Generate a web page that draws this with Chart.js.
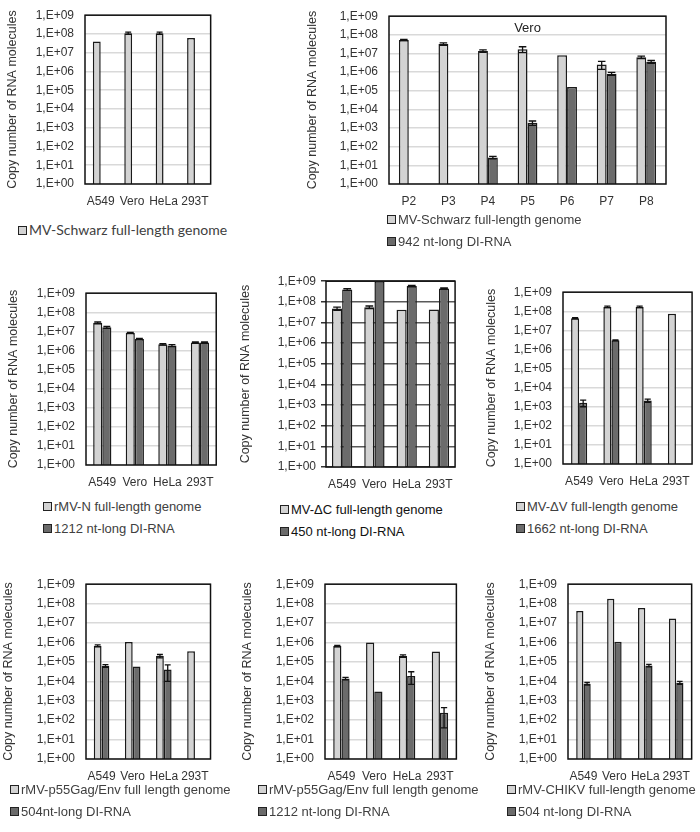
<!DOCTYPE html>
<html>
<head>
<meta charset="utf-8">
<script src="https://cdn.jsdelivr.net/npm/chart.js@4.4.1/dist/chart.umd.min.js"></script>
<style>
body { margin: 0; background: #fff; width: 700px; height: 832px; position: relative; overflow: hidden; font-family: "Liberation Sans", Arial, sans-serif; }
canvas { position: absolute; }
.lg { position: absolute; font-size: 13px; color: #404040; line-height: 22px; white-space: nowrap; }
.lg i { display: inline-block; width: 7px; height: 7px; border: 1.5px solid #222; margin-right: 2px; vertical-align: 0px; }
</style>
</head>
<body>
<script>
// categories
const cellLines = ["A549", "Vero", "HeLa", "293T"];
const passages = ["P2", "P3", "P4", "P5", "P6", "P7", "P8"];
const decades = [0, 1, 2, 3, 4, 5, 6, 7, 8, 9];

// MV-Schwarz in the four cell lines
const schwarzCells = [4.0e7, 1.1e8, 1.1e8, 6.0e7];
const schwarzCellsErr = [0, 1.5e7, 1.5e7, 0];

// serial passages on Vero
const passFull = [5.3e7, 3.2e7, 1.35e7, 1.7e7, 8.0e6, 2.6e6, 6.3e6];
const passFullErr = [4e6, 5e6, 2e6, 6e6, 0, 1.2e6, 1e6];
const passDI = [null, null, 26, 1.9e3, 1.6e5, 8.3e5, 3.6e6];
const passDIErr = [0, 0, 4, 5e2, 0, 1.5e5, 6e5];

// rMV-N
const nFull = [2.8e7, 8.3e6, 2.1e6, 2.6e6];
const nFullErr = [3e6, 5e5, 2e5, 2e5];
const nDI = [1.65e7, 4.0e6, 1.8e6, 2.6e6];
const nDIErr = [2e6, 3e5, 2e5, 2e5];

// MV-deltaC
const dcFull = [4.7e7, 5.5e7, 4.1e7, 4.2e7];
const dcFullErr = [8e6, 8e6, 0, 0];
const dcDI = [4.0e8, 1.0e9, 5.8e8, 4.4e8];
const dcDIErr = [4e7, 0, 5e7, 3e7];

// MV-deltaV
const dvFull = [4.3e7, 1.7e8, 1.7e8, 7.5e7];
const dvFullErr = [3e6, 1.5e7, 1.5e7, 0];
const dvDI = [1.6e3, 3.0e6, 2.1e3, null];
const dvDIErr = [6e2, 2e5, 4e2, 0];

// rMV-p55Gag/Env with 504 nt DI
const gagFull = [6.7e5, 1.05e6, 2.0e5, 3.5e5];
const gagFullErr = [8e4, 0, 4e4, 0];
const gag504 = [6.3e4, 5.8e4, 4.0e4, null];
const gag504Err = [1e4, 0, 3e4, 0];

// rMV-p55Gag/Env with 1212 nt DI
const gagFull2 = [6.5e5, 1.0e6, 2.0e5, 3.4e5];
const gagFull2Err = [6e4, 0, 3e4, 0];
const gag1212 = [1.4e4, 3.0e3, 1.9e4, 2.4e2];
const gag1212Err = [2e3, 0, 1.2e4, 2e2];

// rMV-CHIKV
const chikFull = [4.2e7, 1.8e8, 6.0e7, 1.7e7];
const chikFullErr = [0, 0, 0, 0];
const chik504 = [7.5e3, 1.1e6, 6.5e4, 8.5e3];
const chik504Err = [1.2e3, 0, 1e4, 1.5e3];

const LIGHT = "#d3d3d3";
const DARK = "#6b6b6b";
const Y_TITLE = "Copy number of RNA molecules";

const panels = [
    { cats: cellLines, box: [85, 5, 216, 184], titleX: 12, frac: 0.5,
      sets: [["MV-Schwarz full-length genome", schwarzCells, schwarzCellsErr], [null, [null, null, null, null], null]],
      legend: [18, 230], legendFont: "Lato, sans-serif", legendSize: 14 },
    { cats: passages, box: [389, 6, 666, 184], titleX: 312, frac: 0.5, inner: "Vero",
      sets: [["MV-Schwarz full-length genome", passFull, passFullErr], ["942 nt-long DI-RNA", passDI, passDIErr]],
      legend: [387, 220] },
    { cats: cellLines, box: [86, 283, 221, 465], titleX: 13, frac: 0.56,
      sets: [["rMV-N full-length genome", nFull, nFullErr], ["1212 nt-long DI-RNA", nDI, nDIErr]],
      legend: [43, 507] },
    { cats: cellLines, box: [326, 277, 460, 467], titleX: 245, frac: 0.63, darkGrid: true,
      sets: [["MV-\u0394C full-length genome", dcFull, dcFullErr], ["450 nt-long DI-RNA", dcDI, dcDIErr]],
      legend: [280, 510], legendColor: "#111" },
    { cats: cellLines, box: [563, 282, 697, 464], titleX: 491, frac: 0.5,
      sets: [["MV-\u0394V full-length genome", dvFull, dvFullErr], ["1662 nt-long DI-RNA", dvDI, dvDIErr]],
      legend: [516, 507] },
    { cats: cellLines, box: [86, 574, 216, 759], titleX: 8, frac: 0.5,
      sets: [["rMV-p55Gag/Env full length genome", gagFull, gagFullErr], ["504nt-long DI-RNA", gag504, gag504Err]],
      legend: [10, 790] },
    { cats: cellLines, box: [325, 574, 461, 759], titleX: 247, frac: 0.5,
      sets: [["rMV-p55Gag/Env full length genome", gagFull2, gagFull2Err], ["1212 nt-long DI-RNA", gag1212, gag1212Err]],
      legend: [258, 790] },
    { cats: cellLines, box: [568, 574, 699, 759], titleX: 490, frac: 0.47,
      sets: [["rMV-CHIKV full-length genome", chikFull, chikFullErr], ["504 nt-long DI-RNA", chik504, chik504Err]],
      legend: [507, 790] },
];

const errorBars = {
    id: "errorBars",
    afterDatasetsDraw(chart) {
        const ctx = chart.ctx;
        const y = chart.scales.y;
        chart.data.datasets.forEach((ds, di) => {
            if (!ds.errors) return;
            chart.getDatasetMeta(di).data.forEach((bar, i) => {
                const v = ds.data[i];
                const e = ds.errors[i];
                if (v == null || !e) return;
                const top = y.getPixelForValue(v + e);
                const bot = y.getPixelForValue(Math.max(v - e, 1));
                const hw = bar.width * 0.38;
                ctx.save();
                ctx.strokeStyle = "#111";
                ctx.lineWidth = 1.3;
                ctx.beginPath();
                ctx.moveTo(bar.x, top);
                ctx.lineTo(bar.x, bot);
                ctx.moveTo(bar.x - hw, top);
                ctx.lineTo(bar.x + hw, top);
                ctx.moveTo(bar.x - hw, bot);
                ctx.lineTo(bar.x + hw, bot);
                ctx.stroke();
                ctx.restore();
            });
        });
    },
};

const frame = {
    id: "frame",
    afterDraw(chart, args, opts) {
        const { ctx, chartArea: a } = chart;
        ctx.save();
        ctx.strokeStyle = "#111";
        ctx.lineWidth = 1.5;
        ctx.strokeRect(a.left, a.top, a.right - a.left, a.bottom - a.top);
        if (opts.text) {
            ctx.fillStyle = "#222";
            ctx.font = "13px 'Liberation Sans', Arial, sans-serif";
            ctx.textAlign = "center";
            ctx.textBaseline = "middle";
            ctx.fillText(opts.text, (a.left + a.right) / 2, a.top + 12);
        }
        ctx.restore();
    },
};

function makePanel(p) {
    const L = p.titleX - 13;
    const T = p.box[1] - 8;
    const padR = Math.min(3, 700 - p.box[2]);
    const W = p.box[2] - L + padR;
    const H = p.box[3] - T + 30;
    const axisW = p.box[0] - L;

    const canvas = document.createElement("canvas");
    canvas.width = W;
    canvas.height = H;
    canvas.style.left = L + "px";
    canvas.style.top = T + "px";
    document.body.appendChild(canvas);

    const colors = [LIGHT, DARK];
    new Chart(canvas, {
        type: "bar",
        data: {
            labels: p.cats,
            datasets: p.sets.map((s, k) => ({
                label: s[0] || "",
                data: s[1],
                errors: s[2],
                backgroundColor: colors[k],
                borderColor: "#1a1a1a",
                borderWidth: 1.5,
                categoryPercentage: p.frac,
                barPercentage: 1,
            })),
        },
        options: {
            responsive: false,
            animation: false,
            layout: { padding: { top: 8, right: padR, left: 0, bottom: 0 } },
            plugins: {
                legend: { display: false },
                tooltip: { enabled: false },
                frame: { text: p.inner },
            },
            scales: {
                x: {
                    grid: { display: false, drawTicks: false },
                    border: { display: false },
                    ticks: {
                        autoSkip: false,
                        maxRotation: 0,
                        minRotation: 0,
                        color: "#333",
                        font: { size: 12, family: "'Liberation Sans', Arial" },
                        padding: 10,
                    },
                    afterFit(s) { s.height = 30; },
                },
                y: {
                    type: "logarithmic",
                    min: 1,
                    max: 1e9,
                    afterBuildTicks(s) { s.ticks = decades.map((d) => ({ value: Math.pow(10, d) })); },
                    afterFit(s) { s.width = axisW; },
                    grid: {
                        color: p.darkGrid ? "#5a5a5a" : "#d9d9d9",
                        lineWidth: 1.5,
                        drawTicks: !!p.darkGrid,
                        tickLength: 5,
                        tickColor: "#333",
                    },
                    border: { display: false },
                    ticks: {
                        autoSkip: false,
                        color: "#333",
                        padding: p.darkGrid ? 5 : 11,
                        font: { size: 12, family: "'Liberation Sans', Arial" },
                        callback: (v) => "1,E+" + String(Math.round(Math.log10(v))).padStart(2, "0"),
                    },
                    title: {
                        display: true,
                        text: Y_TITLE,
                        color: "#333",
                        font: { size: 12.5, family: "'Liberation Sans', Arial" },
                        padding: { top: 6, bottom: 0 },
                    },
                },
            },
        },
        plugins: [errorBars, frame],
    });

    const lg = document.createElement("div");
    lg.className = "lg";
    lg.style.left = p.legend[0] + "px";
    lg.style.top = p.legend[1] - 11 + "px";
    if (p.legendFont) lg.style.fontFamily = p.legendFont;
    if (p.legendSize) lg.style.fontSize = p.legendSize + "px";
    if (p.legendColor) lg.style.color = p.legendColor;
    p.sets.forEach((s, k) => {
        if (!s[0]) return;
        const row = document.createElement("div");
        const sw = document.createElement("i");
        sw.style.background = colors[k];
        row.appendChild(sw);
        row.appendChild(document.createTextNode(s[0]));
        lg.appendChild(row);
    });
    document.body.appendChild(lg);
}

panels.forEach(makePanel);
</script>
</body>
</html>
